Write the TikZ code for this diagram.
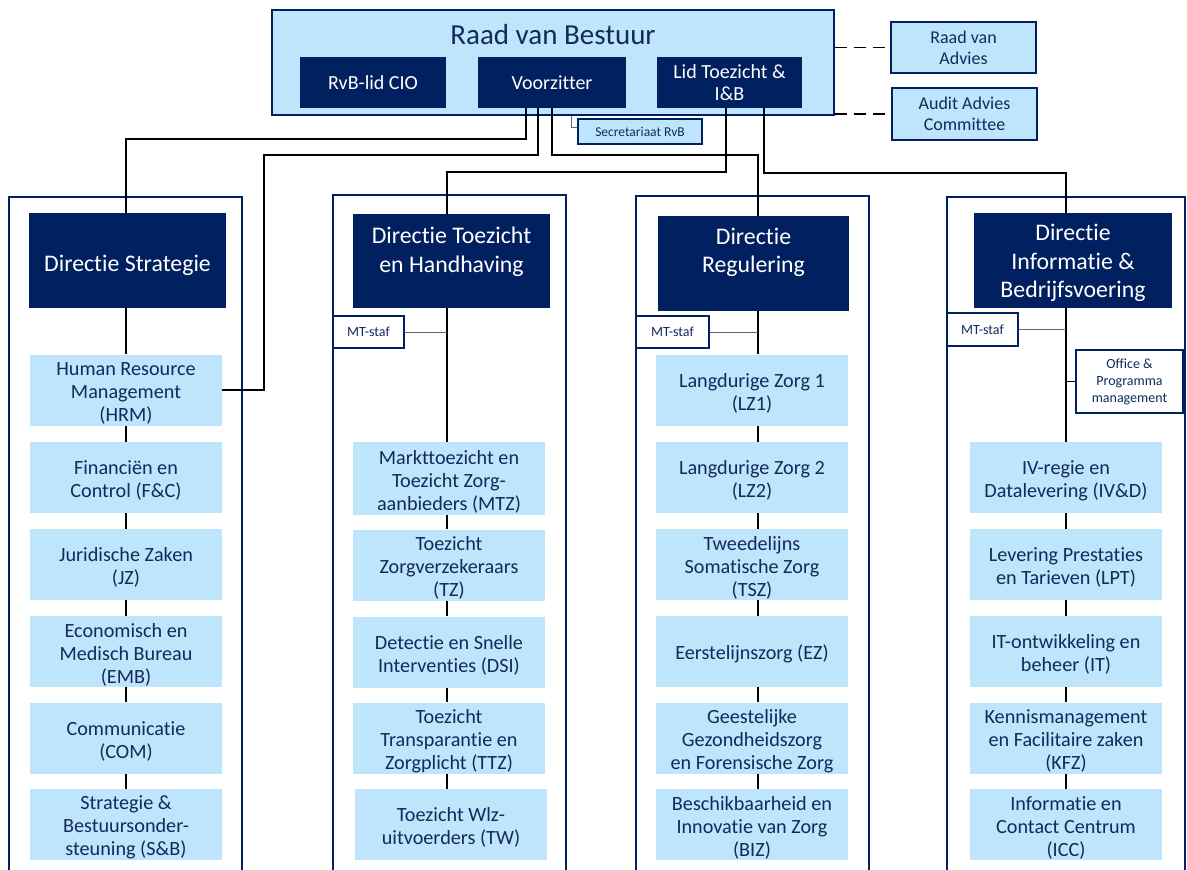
\documentclass[tikz,border=0pt]{standalone}
\usepackage{fontspec}
\setmainfont{Carlito}[Ligatures=NoCommon]
\definecolor{navy}{RGB}{0,32,96}
\definecolor{lblue}{RGB}{190,229,251}
\definecolor{tnavy}{RGB}{18,42,92}
\newcommand{\tstr}{\rule{0pt}{20pt}}
\begin{document}
\begin{tikzpicture}[x=1pt,y=-1pt,
  lbox/.style={fill=lblue,text=tnavy,minimum width=192pt,minimum height=71pt,inner sep=0pt,align=center,font=\fontsize{20.2}{23}\selectfont},
  dbox/.style={fill=navy,text=white,inner sep=0pt,align=center,font=\fontsize{23.8}{28.5}\selectfont,minimum height=95pt},
  rbox/.style={fill=navy,text=white,inner sep=0pt,align=center,font=\fontsize{20}{22.5}\selectfont,minimum height=51pt},
  abox/.style={fill=lblue,draw=navy,line width=1.5pt,text=tnavy,inner sep=0pt,align=center,font=\fontsize{18}{21}\selectfont,minimum width=145pt,minimum height=51pt},
  sbox/.style={fill=white,draw=navy,line width=1.8pt,text=tnavy,inner sep=0pt,align=center,font=\fontsize{14}{17}\selectfont},
  conn/.style={line width=1.5pt,black},
  thinconn/.style={line width=1pt,black!60},
  frame/.style={draw=navy,line width=1.5pt},
  dashconn/.style={line width=1.5pt,black,dash pattern=on 12pt off 7pt}
]
\useasboundingbox (0,0) rectangle (1187,870);
\fill[white] (0,0) rectangle (1187,870);

% spine x positions
\coordinate (sp1) at (126,0);
\coordinate (sp2) at (447,0);
\coordinate (sp3) at (758,0);
\coordinate (sp4) at (1066,0);

% column frames (open at the bottom)
\draw[frame] (9,872) |- (242,197) -- (242,872);
\draw[frame] (333,872) |- (566,195) -- (566,872);
\draw[frame] (636,872) |- (869,196) -- (869,872);
\draw[frame] (947,872) |- (1185,197) -- (1185,872);

% Raad van Bestuur
\node[fill=lblue,draw=navy,line width=1.5pt,minimum width=562pt,minimum height=105pt,inner sep=0pt] (raad) at (553,62.5) {};
\node[text=tnavy,font=\fontsize{29}{34}\selectfont,inner sep=0pt] (raadt) at (553,35) {Raad van Bestuur};
\node[rbox,minimum width=146pt] (cio) at (373,82.5) {RvB-lid CIO};
\node[rbox,minimum width=148pt] (voorz) at (552,82.5) {Voorzitter};
\node[rbox,minimum width=145pt] (lid) at (729.5,82.5) {Lid Toezicht \&\\I\&B};
\node[fill=lblue,draw=navy,line width=1.5pt,text=tnavy,inner sep=0pt,minimum width=124pt,minimum height=25pt,font=\fontsize{13.5}{16}\selectfont] (secr) at (640,131.5) {Secretariaat RvB};

\node[abox] (rva) at (963.5,47.5) {Raad van\\Advies};
\node[abox,minimum height=52pt] (aac) at (964.5,114) {Audit Advies\\Committee};

% Directies
\node[dbox,minimum width=197pt] (dstrat) at (127.5,260.5) {\rule{0pt}{27pt}Directie Strategie};
\node[dbox,minimum width=197pt,minimum height=94pt] (dtoe) at (451.5,261) {\rule{0pt}{22pt}Directie Toezicht\\en Handhaving\\\mbox{}};
\node[dbox,minimum width=191pt] (dreg) at (753.5,263.5) {\rule{0pt}{18pt}Directie\\Regulering\\\mbox{}};
\node[dbox,minimum width=198pt] (dinf) at (1073,260.5) {\rule{0pt}{22pt}Directie\\Informatie \&\\Bedrijfsvoering};

% Column 1
\node[lbox] (hrm) at (126,390) {\tstr Human Resource\\Management\\(HRM)};
\node[lbox] (fc) at (126,477.5) {\tstr Financiën en\\Control (F\&C)};
\node[lbox] (jz) at (126,564.5) {\tstr Juridische Zaken\\(JZ)};
\node[lbox] (emb) at (126,651.5) {\tstr Economisch en\\Medisch Bureau\\(EMB)};
\node[lbox] (com) at (126,738) {\tstr Communicatie\\(COM)};
\node[lbox] (sb) at (126,824.5) {\tstr Strategie \&\\Bestuursonder-\\steuning (S\&B)};

% Column 2
\node[sbox,minimum width=71pt,minimum height=32pt] (mt2) at (368.5,332) {MT-staf};
\node[lbox,minimum height=73pt] (mtz) at (449,478.5) {\tstr Markttoezicht en\\Toezicht Zorg-\\aanbieders (MTZ)};
\node[lbox] (tz) at (449,565) {\tstr Toezicht\\Zorgverzekeraars\\(TZ)};
\node[lbox] (dsi) at (449,652) {\tstr Detectie en Snelle\\Interventies (DSI)};
\node[lbox] (ttz) at (449,738) {\tstr Toezicht\\Transparantie en\\Zorgplicht (TTZ)};
\node[lbox] (tw) at (451,824.5) {\tstr Toezicht Wlz-\\uitvoerders (TW)};

% Column 3
\node[sbox,minimum width=73pt,minimum height=32pt] (mt3) at (672.5,332) {MT-staf};
\node[lbox] (lz1) at (752,390) {\tstr Langdurige Zorg 1\\(LZ1)};
\node[lbox] (lz2) at (752,477.5) {\tstr Langdurige Zorg 2\\(LZ2)};
\node[lbox] (tsz) at (752,564.5) {\tstr Tweedelijns\\Somatische Zorg\\(TSZ)};
\node[lbox] (ez) at (752,651.5) {\tstr Eerstelijnszorg (EZ)};
\node[lbox] (ggz) at (752,738) {\tstr Geestelijke\\Gezondheidszorg\\en Forensische Zorg};
\node[lbox] (biz) at (752,824.5) {\tstr Beschikbaarheid en\\Innovatie van Zorg\\(BIZ)};

% Column 4
\node[sbox,minimum width=71pt,minimum height=33pt] (mt4) at (982.5,329.5) {MT-staf};
\node[sbox,minimum width=107pt,minimum height=63pt] (off) at (1129.5,381.5) {Office \&\\Programma\\management};
\node[lbox] (ivd) at (1066,477.5) {\tstr IV-regie en\\Datalevering (IV\&D)};
\node[lbox] (lpt) at (1066,564.5) {\tstr Levering Prestaties\\en Tarieven (LPT)};
\node[lbox] (it) at (1066,651.5) {\tstr IT-ontwikkeling en\\beheer (IT)};
\node[lbox] (kfz) at (1066,738) {\tstr Kennismanagement\\en Facilitaire zaken\\(KFZ)};
\node[lbox] (icc) at (1066,824.5) {\tstr Informatie en\\Contact Centrum\\(ICC)};

% spines
\foreach \a/\b in {dstrat/hrm,hrm/fc,fc/jz,jz/emb,emb/com,com/sb}
  \draw[conn] (\a.south -| sp1) -- (\b.north -| sp1);
\foreach \a/\b in {dtoe/mtz,mtz/tz,tz/dsi,dsi/ttz,ttz/tw}
  \draw[conn] (\a.south -| sp2) -- (\b.north -| sp2);
\foreach \a/\b in {dreg/lz1,lz1/lz2,lz2/tsz,tsz/ez,ez/ggz,ggz/biz}
  \draw[conn] (\a.south -| sp3) -- (\b.north -| sp3);
\foreach \a/\b in {dinf/ivd,ivd/lpt,lpt/it,it/kfz,kfz/icc}
  \draw[conn] (\a.south -| sp4) -- (\b.north -| sp4);

% staff connectors
\draw[thinconn] (mt2.east) -- (mt2.east -| sp2);
\draw[thinconn] (mt3.east) -- (mt3.east -| sp3);
\draw[thinconn] (mt4.east) -- (mt4.east -| sp4);
\draw[conn,line width=1pt] (off.west) -- (off.west -| sp4);

% top connectors
\coordinate (j1) at (526,139);
\draw[conn] (voorz.south -| j1) -- (j1) -| (dstrat.north -| sp1);
\coordinate (j2) at (538,155);
\coordinate (j2b) at (264,155);
\draw[conn] (voorz.south -| j2) -- (j2) -- (j2b) |- (hrm.east);
\coordinate (j3) at (758,155);
\draw[conn] (voorz.south) |- (j3) -- (dreg.north -| sp3);
\coordinate (j4) at (726,172);
\draw[conn] (lid.south -| j4) -- (j4) -| (dtoe.north -| sp2);
\coordinate (j5) at (764,173);
\draw[conn] (lid.south -| j5) -- (j5) -| (dinf.north -| sp4);

% secretariaat
\coordinate (js) at (571,127);
\draw[thinconn] (raad.south -| js) -- (js) -- (js -| secr.west);

% advisory dashed links
\draw[dashconn] (raad.east |- rva.west) -- (rva.west);
\draw[dashconn] (raad.east |- aac.west) -- (aac.west);
\end{tikzpicture}
\end{document}
